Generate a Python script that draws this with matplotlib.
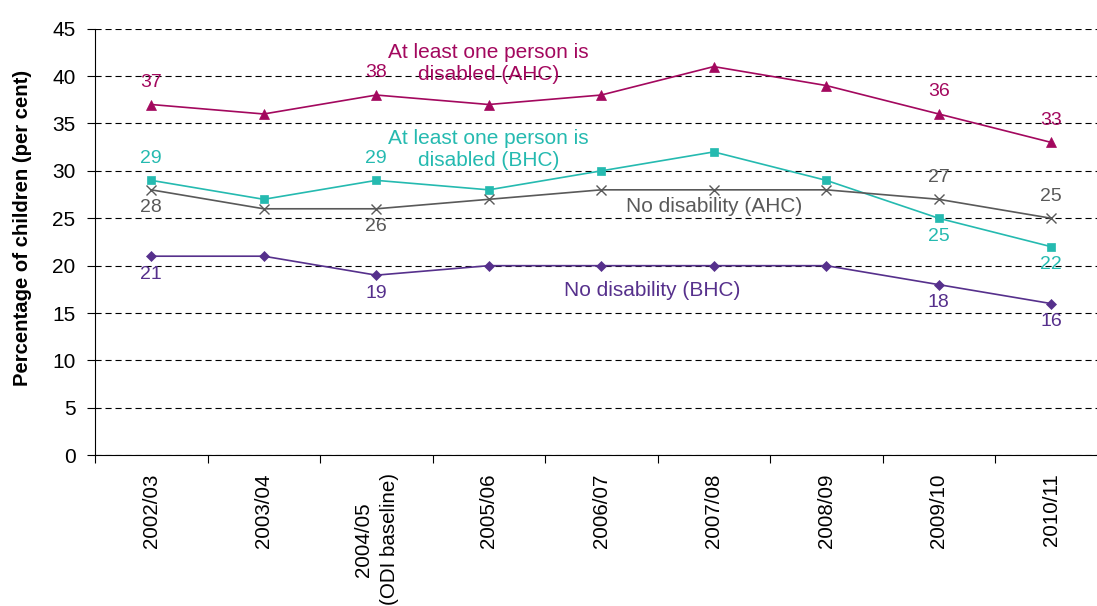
import matplotlib.pyplot as plt

plt.rcParams['font.family'] = ['Liberation Sans', 'DejaVu Sans']

years = ['2002/03', '2003/04', '2004/05\n(ODI baseline)', '2005/06', '2006/07',
         '2007/08', '2008/09', '2009/10', '2010/11']
dis_ahc = [37, 36, 38, 37, 38, 41, 39, 36, 33]
dis_bhc = [29, 27, 29, 28, 30, 32, 29, 25, 22]
nodis_ahc = [28, 26, 26, 27, 28, 28, 28, 27, 25]
nodis_bhc = [21, 21, 19, 20, 20, 20, 20, 18, 16]

# which points get a value label, and whether above (1) or below (-1)
lab_idx = [0, 2, 7, 8]
dis_ahc_pos = [1, 1, 1, 1]
dis_bhc_pos = [1, 1, -1, -1]
nodis_ahc_pos = [-1, -1, 1, 1]
nodis_bhc_pos = [-1, -1, -1, -1]

c_mag = '#A3085E'
c_teal = '#25BAB0'
c_grey = '#595959'
c_purp = '#56308C'

fig = plt.figure(figsize=(10.97, 6.06), dpi=100)
ax = fig.add_axes([0.0866, 0.2487, 0.923, 0.704])

x = list(range(len(years)))
series = [
    (dis_ahc, c_mag, '^', 7, dis_ahc_pos),
    (dis_bhc, c_teal, 's', 6, dis_bhc_pos),
    (nodis_ahc, c_grey, 'x', 7, nodis_ahc_pos),
    (nodis_bhc, c_purp, 'D', 5, nodis_bhc_pos),
]
for vals, col, mk, ms, pos in series:
    ax.plot(x, vals, color=col, marker=mk, markersize=ms, linewidth=1.2,
            markeredgewidth=1.0 if mk == 'x' else 0.5, zorder=3)
    for i, p in zip(lab_idx, pos):
        off = 16 if p > 0 else -13
        ax.annotate(str(vals[i]), (x[i], vals[i]), xytext=(0, off),
                    textcoords='offset points', ha='center', va='center',
                    fontsize=14, color=col)

ax.text(3.0, 41.3, 'At least one person is\ndisabled (AHC)', color=c_mag,
        fontsize=15, ha='center', va='center', linespacing=1.2)
ax.text(3.0, 32.3, 'At least one person is\ndisabled (BHC)', color=c_teal,
        fontsize=15, ha='center', va='center', linespacing=1.2)
ax.text(5.0, 26.2, 'No disability (AHC)', color=c_grey,
        fontsize=15, ha='center', va='center')
ax.text(4.45, 17.4, 'No disability (BHC)', color=c_purp,
        fontsize=15, ha='center', va='center')

ax.set_xlim(-0.5, len(years) - 0.5)
ax.set_ylim(0, 45)
ax.set_yticks(range(0, 46, 5))
ax.yaxis.grid(True, color='black', linestyle=(0, (5.5, 3.5)), linewidth=0.8)
ax.set_axisbelow(True)

ax.set_xticks(x)
ax.set_xticklabels(years, rotation=90, ha='center', va='top',
                   multialignment='center', fontsize=14.8, linespacing=1.45)
ax.set_xticks([i + 0.5 for i in range(-1, len(years))], minor=True)
ax.tick_params(axis='x', which='major', length=0, pad=13)
ax.tick_params(axis='x', which='minor', length=6, width=0.8)
ax.tick_params(axis='y', length=6, width=0.8, labelsize=15, pad=8)

for s in ['top', 'right']:
    ax.spines[s].set_visible(False)
ax.spines['left'].set_linewidth(0.8)
ax.spines['bottom'].set_linewidth(0.8)

ax.set_ylabel('Percentage of children (per cent)', fontsize=14.6, fontweight='bold')
ax.yaxis.set_label_coords(-0.062, 0.533)

fig.savefig('out.png', dpi=100)
